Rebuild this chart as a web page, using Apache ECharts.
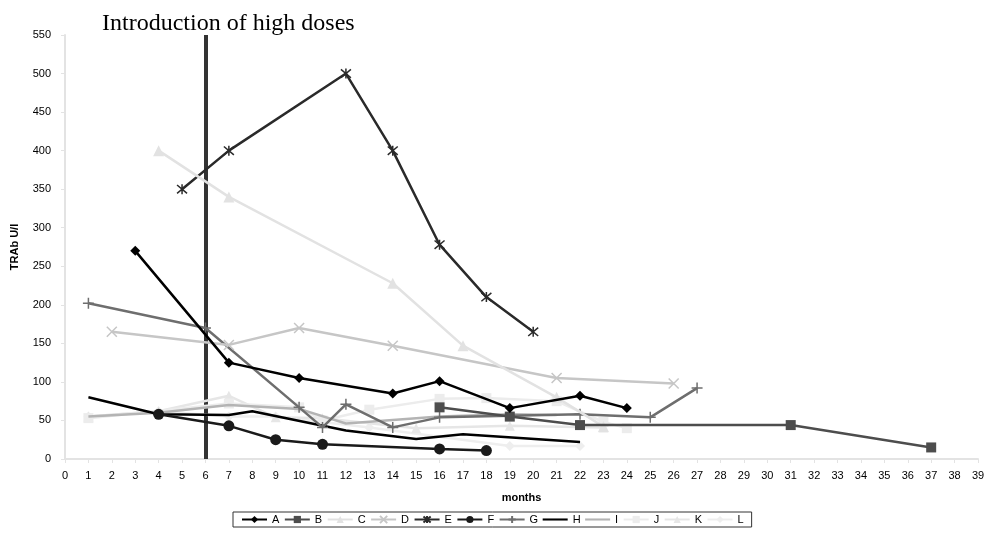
<!DOCTYPE html>
<html><head><meta charset="utf-8">
<script src="https://cdn.jsdelivr.net/npm/echarts@6/dist/echarts.min.js"></script>
<style>html,body{margin:0;padding:0;background:#fff}#c{width:992px;height:537px}</style>
</head><body><div id="c"></div>
<script>
// month, TRAb U/l
const seriesNames = ['A','B','C','D','E','F','G','H','I','J','K','L'];
const A = [[3,270],[7,125],[10,105],[14,85],[16,101],[19,66],[22,82],[24,66]];
const B = [[16,67],[19,55],[22,44],[31,44],[37,15]];
const C = [[4,400],[7,340],[14,228],[17,147],[21,80],[23,42]];
const D = [[2,165],[7,148],[10,170],[14,147],[21,105],[26,98]];
const E = [[5,350],[7,400],[12,500],[14,400],[16,278],[18,210],[20,165]];
const F = [[4,58],[7,43],[9,25],[11,19],[16,13],[18,11]];
const G = [[1,202],[6,170],[10,67],[11,41],[12,71],[14,41],[16,54],[22,58],[25,54],[27,92]];
const H = [[1,80],[4,58],[7,57],[8,62],[12,37],[15,26],[17,32],[22,22]];
const I = [[1,55],[4,60],[7,70],[10,65],[12,46],[16,55],[19,58],[21,57]];
const J = [[1,53],[7,72],[10,67],[11,50],[13,64],[16,78],[18,79],[21,75],[23,48],[24,40]];
const K = [[1,55],[4,62],[7,82],[9,54],[11,53],[15,40],[19,43],[23,41]];
const L = [[1,55],[4,62],[7,55],[9,55],[13,41],[19,17],[22,17]];
const interventionMonth = 6;
const yTicks = {min:0, max:550, interval:50};
const xTicks = {min:0, max:39, interval:1};

const X_PATH = 'path://M0,0L10,10M10,0L0,10';
const STAR_PATH = 'path://M0,0L10,10M10,0L0,10M5,-1L5,11';
const PLUS_PATH = 'path://M5,0L5,10M0,5L10,5';
const LINE_ICON = 'path://M0,0L30,0L30,2.5L0,2.5Z';

const styles = {
  A:{color:'#000000', symbol:'diamond', size:10, width:2.5},
  B:{color:'#4d4d4d', symbol:'rect', size:10, width:2.5},
  C:{color:'#e2e2e2', symbol:'triangle', size:11, width:2.5},
  D:{color:'#c6c6c6', symbol:X_PATH, size:10, width:2.5, stroke:true},
  E:{color:'#2a2a2a', symbol:STAR_PATH, size:10, width:2.5, stroke:true},
  F:{color:'#1a1a1a', symbol:'circle', size:11, width:2.5},
  G:{color:'#6e6e6e', symbol:PLUS_PATH, size:11, width:2.5, stroke:true},
  H:{color:'#000000', symbol:'none', size:0, width:2.5},
  I:{color:'#b4b4b4', symbol:'none', size:0, width:2.5},
  J:{color:'#ececec', symbol:'rect', size:10, width:2.5},
  K:{color:'#e6e6e6', symbol:'triangle', size:10, width:2.5},
  L:{color:'#eeeeee', symbol:'diamond', size:10, width:2.5}
};
const dataMap = {A,B,C,D,E,F,G,H,I,J,K,L};

const series = seriesNames.map((n, idx) => {
  const s = styles[n];
  return {
    name: n, type:'line', data: dataMap[n],
    symbol: s.symbol, symbolSize: s.size, showSymbol: s.symbol !== 'none',
    lineStyle:{color:s.color, width:s.width},
    itemStyle: s.stroke ? {color:s.color, borderColor:s.color, borderWidth:1.5} : {color:s.color},
    z: 20 - idx,
    animation:false
  };
});
series.push({
  name:'intro', type:'line', data:[], silent:true,
  markLine:{symbol:'none', silent:true, label:{show:false},
    lineStyle:{color:'#333333', width:4, type:'solid'},
    data:[{xAxis: interventionMonth}]},
  z: 30, animation:false
});

const legendData = seriesNames.map(n => (styles[n].symbol === 'none') ? {name:n, icon:LINE_ICON} : {name:n});

const chart = echarts.init(document.getElementById('c'), null, {renderer:'canvas'});
chart.setOption({
  animation:false,
  backgroundColor:'#ffffff',
  title:{text:'Introduction of high doses', left:97, top:7,
    textStyle:{fontFamily:'Liberation Serif', fontSize:24, fontWeight:'normal', color:'#000'}},
  grid:{left:65, right:14, top:35, bottom:78},
  legend:{data:legendData, left:233, top:512, width:700,
    borderColor:'#333', borderWidth:1, padding:[2,8], itemGap:4.5, itemWidth:25, itemHeight:9,
    textStyle:{fontFamily:'Liberation Sans', fontSize:11, color:'#000'}},
  xAxis:{type:'value', min:xTicks.min, max:xTicks.max, interval:xTicks.interval,
    name:'months', nameLocation:'middle', nameGap:33,
    nameTextStyle:{fontFamily:'Liberation Sans', fontSize:11, fontWeight:'bold', color:'#000'},
    axisLine:{lineStyle:{color:'#e3e3e3', width:2}},
    axisTick:{show:true, lineStyle:{color:'#e3e3e3'}, length:4},
    splitLine:{show:false},
    axisLabel:{fontFamily:'Liberation Sans', fontSize:11, color:'#000', margin:11}},
  yAxis:{type:'value', min:yTicks.min, max:yTicks.max, interval:yTicks.interval,
    name:'TRAb U/l', nameLocation:'middle', nameGap:45,
    nameTextStyle:{fontFamily:'Liberation Sans', fontSize:11, fontWeight:'bold', color:'#000'},
    axisLine:{show:true, lineStyle:{color:'#e3e3e3', width:2}},
    axisTick:{show:true, lineStyle:{color:'#e3e3e3'}, length:4},
    splitLine:{show:false},
    axisLabel:{fontFamily:'Liberation Sans', fontSize:11, color:'#000', margin:14}},
  series: series
});
</script>
</body></html>
